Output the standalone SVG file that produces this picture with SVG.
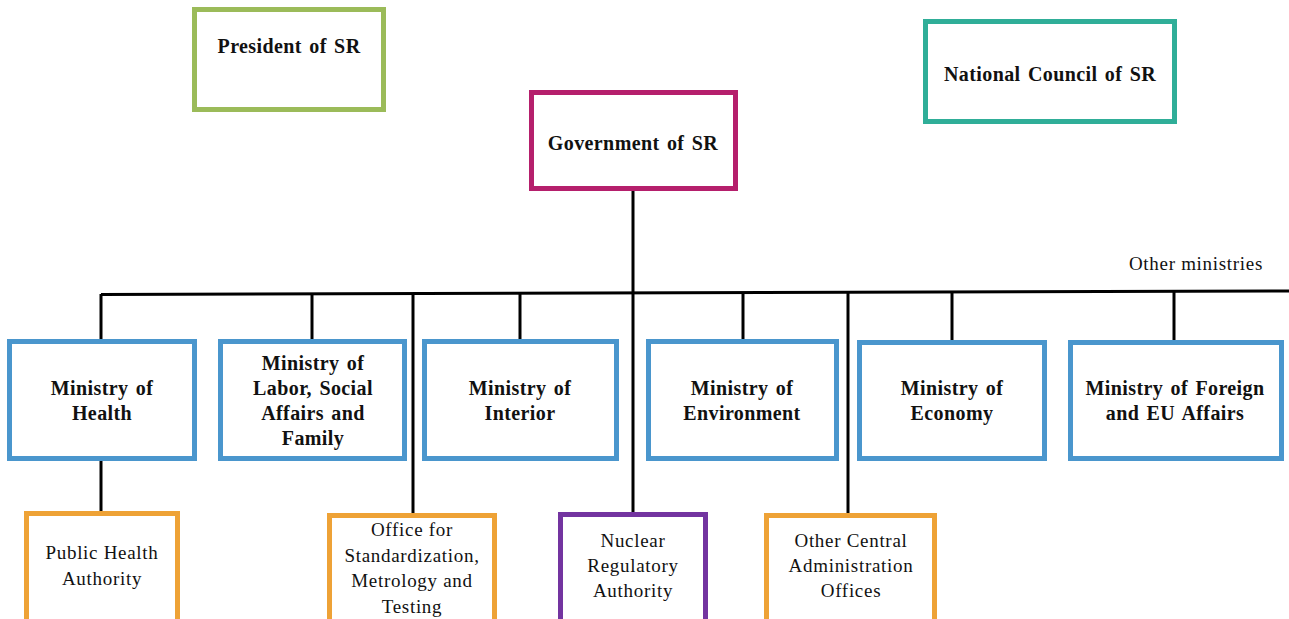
<svg xmlns="http://www.w3.org/2000/svg" width="1289" height="619" viewBox="0 0 1289 619">
<style>
.box{fill:#fff;stroke-width:5}
.green{stroke:#9BBB59}.mag{stroke:#B51F6C}.teal{stroke:#2FAE98}.blue{stroke:#4A96CD}.orange{stroke:#EEA236}.purple{stroke:#7334A0}
.b,.r{font-family:'Liberation Serif','Times New Roman',Times,serif;font-size:19px;letter-spacing:0.7px;fill:#111;text-anchor:middle}
.b{font-weight:bold;font-size:20px;letter-spacing:0.4px;word-spacing:2px}
.conn line,.conn path{stroke:#000;stroke-width:3;fill:none}
</style>
<rect width="1289" height="619" fill="#fff"/>
<g class="conn">
<path d="M101,294.5 L1289,291"/>
<line x1="633" y1="191" x2="633" y2="513"/>
<line x1="101" y1="294" x2="101" y2="340"/>
<line x1="312" y1="294" x2="312" y2="340"/>
<line x1="520" y1="293" x2="520" y2="340"/>
<line x1="743" y1="293" x2="743" y2="340"/>
<line x1="952" y1="292" x2="952" y2="340"/>
<line x1="1174" y1="292" x2="1174" y2="340"/>
<line x1="413" y1="294" x2="413" y2="514"/>
<line x1="848" y1="292" x2="848" y2="514"/>
<line x1="101" y1="460" x2="101" y2="512"/>
</g>
<g id="president"><rect class="box green" x="194.5" y="9.5" width="189" height="100"/><text class="b" x="289" y="53">President of SR</text></g>
<g id="government"><rect class="box mag" x="531.5" y="92.5" width="204" height="96"/><text class="b" x="633" y="150">Government of SR</text></g>
<g id="national-council"><rect class="box teal" x="925.5" y="21.5" width="249" height="100"/><text class="b" x="1050" y="81">National Council of SR</text></g>
<text class="r" x="1196" y="270">Other ministries</text>
<g id="health"><rect class="box blue" x="9.5" y="341.5" width="185" height="117"/><text class="b" x="102" y="395">Ministry of</text><text class="b" x="102" y="420">Health</text></g>
<g id="labor"><rect class="box blue" x="220.5" y="341.5" width="184" height="117"/><text class="b" x="313" y="370">Ministry of</text><text class="b" x="313" y="395">Labor, Social</text><text class="b" x="313" y="420">Affairs and</text><text class="b" x="313" y="445">Family</text></g>
<g id="interior"><rect class="box blue" x="424.5" y="341.5" width="192" height="117"/><text class="b" x="520" y="395">Ministry of</text><text class="b" x="520" y="420">Interior</text></g>
<g id="environment"><rect class="box blue" x="648.5" y="341.5" width="188" height="117"/><text class="b" x="742" y="395">Ministry of</text><text class="b" x="742" y="420">Environment</text></g>
<g id="economy"><rect class="box blue" x="859.5" y="342.5" width="185" height="116"/><text class="b" x="952" y="395">Ministry of</text><text class="b" x="952" y="420">Economy</text></g>
<g id="foreign"><rect class="box blue" x="1070.5" y="342.5" width="211" height="116"/><text class="b" x="1175" y="395">Ministry of Foreign</text><text class="b" x="1175" y="420">and EU Affairs</text></g>
<g id="public-health"><rect class="box orange" x="26.5" y="513.5" width="151" height="120"/><text class="r" x="102" y="559">Public Health</text><text class="r" x="102" y="585">Authority</text></g>
<g id="office-standardization"><rect class="box orange" x="329.5" y="515.5" width="165" height="120"/><text class="r" x="412" y="536">Office for</text><text class="r" x="412" y="562">Standardization,</text><text class="r" x="412" y="587">Metrology and</text><text class="r" x="412" y="613">Testing</text></g>
<g id="nuclear"><rect class="box purple" x="560.5" y="514.5" width="145" height="120"/><text class="r" x="633" y="547">Nuclear</text><text class="r" x="633" y="572">Regulatory</text><text class="r" x="633" y="597">Authority</text></g>
<g id="other-central"><rect class="box orange" x="766.5" y="515.5" width="168" height="120"/><text class="r" x="851" y="547">Other Central</text><text class="r" x="851" y="572">Administration</text><text class="r" x="851" y="597">Offices</text></g>
</svg>
